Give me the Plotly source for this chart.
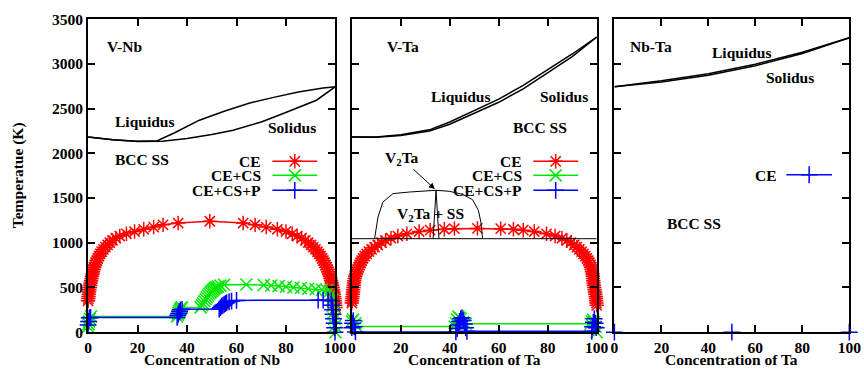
import plotly.graph_objects as go

# ---------------- DATA ----------------
# V-Nb phase boundaries
vnb_liq_x = [0, 10, 20, 28, 35, 45, 55, 65, 75, 85, 95, 100]
vnb_liq_T = [2182, 2150, 2135, 2140, 2230, 2370, 2470, 2560, 2625, 2685, 2730, 2745]
vnb_sol_x = [0, 10, 20, 30, 40, 50, 58.6, 70, 78.9, 85, 92.3, 100]
vnb_sol_T = [2182, 2150, 2132, 2135, 2165, 2210, 2258, 2350, 2444, 2510, 2593, 2745]

# temperature levels of the CE miscibility-gap points (K)
ce_levels = [0, 25, 50, 75, 100, 125, 150, 175, 200, 225, 250, 275, 300, 325, 350, 375, 400, 425, 450, 475,
             500, 525, 550, 575, 600, 625, 650, 675, 700, 725, 750, 775, 800, 825, 850, 875, 900, 925, 950, 975,
             1000, 1025, 1050, 1075, 1100]

# V-Nb CE (red)
vnb_ce_left_x = [-1.0, -0.95, -0.9, -0.85, -0.8, -0.7, -0.6, -0.55, -0.5, -0.4, -0.35, -0.3, -0.2, -0.1, 0.0, 0.1, 0.2, 0.3, 0.4, 0.55,
                 0.7, 0.85, 1.0, 1.2, 1.4, 1.6, 1.8, 2.0, 2.3, 2.5, 2.8, 3.1, 3.5, 3.9, 4.4, 4.9, 5.5, 6.2, 7.0, 7.9,
                 8.8, 9.9, 11.2, 12.8, 15.5]
vnb_ce_top_x = [18.8, 22.5, 26.5, 30.3, 36.4, 49.2, 62.7, 67.5, 72.0, 76.5, 80.0]
vnb_ce_top_T = [1125, 1150, 1175, 1200, 1220, 1240, 1220, 1200, 1175, 1150, 1125]
vnb_ce_right_x = [101.1, 101.0, 100.9, 100.8, 100.7, 100.6, 100.5, 100.4, 100.3, 100.2, 100.1, 100.0, 99.9, 99.8, 99.7, 99.6, 99.5, 99.35, 99.2, 99.0,
                  98.85, 98.65, 98.45, 98.2, 98.0, 97.7, 97.4, 97.1, 96.8, 96.4, 96.0, 95.6, 95.1, 94.6, 94.0, 93.4, 92.7, 91.9, 91.0, 90.1,
                  89.0, 87.8, 86.3, 84.5, 82.5]

# V-Nb CE+CS (green)
vnb_cecs_x = [-0.4, -0.2, 0.0, 0.2, 0.4, 0.7, 1.2, 36.0, 36.3, 36.6, 36.9, 37.2, 37.5, 38.0, 45.5, 46.0, 46.5, 47.0, 47.5, 48.0, 48.5, 49.0, 49.5,
              50.0, 50.5, 51.0, 51.5, 52.0, 52.5, 53.5, 55.0, 64.0, 71.0, 74.0, 77.0, 80.0, 83.0, 86.0, 89.0, 92.0, 94.5, 96.5, 97.8,
              98.3, 98.6, 98.9, 99.2, 99.5, 99.8, 100.0]
vnb_cecs_T = [0, 30, 60, 90, 120, 150, 175, 175, 195, 215, 235, 255, 270, 275, 277, 300, 320, 345, 370, 390, 410, 430, 445,
              460, 473, 485, 495, 503, 510, 520, 530, 532, 528, 522, 515, 508, 500, 493, 486, 480, 474, 468, 460,
              420, 360, 290, 220, 150, 70, 0]

# V-Nb CE+CS+P (blue)
vnb_cecsp_x = [-0.5, -0.3, 0.0, 0.2, 0.5, 1.0, 36.0, 36.3, 36.6, 37.0, 37.3, 38.0, 53.0, 53.5, 54.0, 54.5, 55.0, 55.5, 56.0, 57.0,
               58.0, 60.0, 93.0, 95.0, 97.0, 98.3, 98.6, 98.8, 99.0, 99.2, 99.4, 99.6, 99.8]
vnb_cecsp_T = [0, 40, 80, 120, 160, 165, 165, 190, 210, 230, 250, 255, 258, 275, 290, 300, 310, 320, 330, 340,
               348, 355, 358, 358, 358, 350, 300, 250, 200, 150, 100, 50, 0]

# V-Ta phase boundaries
vta_liq_x = [0, 10, 20, 31.7, 40, 52, 60, 70, 76.4, 80, 90, 100]
vta_liq_T = [2182, 2182, 2207, 2262, 2350, 2500, 2605, 2760, 2870, 2930, 3110, 3300]
vta_sol_x = [0, 10, 20, 31.7, 40, 52, 60, 70, 76.4, 80, 90, 100]
vta_sol_T = [2182, 2180, 2200, 2250, 2325, 2470, 2570, 2720, 2835, 2895, 3080, 3300]

# V2Ta region
v2ta_dome_x = [9.3, 10.7, 12.7, 16.8, 23.6, 34.4, 39.8, 45.2, 49.3, 51.7, 52.7, 53.4]
v2ta_dome_T = [1045, 1287, 1455, 1549, 1567, 1586, 1575, 1541, 1482, 1362, 1231, 1045]
v2ta_lens_x = [33.2, 34.4, 35.6]
v2ta_lens_T = [1045, 1586, 1045]
eutectoid_x = [0, 100]
eutectoid_T = [1045, 1045]

# V-Ta CE (red)
vta_ce_left_x = [-1.0, -0.95, -0.9, -0.85, -0.8, -0.7, -0.6, -0.55, -0.5, -0.4, -0.3, -0.2, -0.1, 0.0, 0.1, 0.2, 0.3, 0.4, 0.5, 0.6,
                 0.7, 0.8, 0.9, 1.0, 1.2, 1.4, 1.7, 2.0, 2.4, 2.8, 3.2, 3.6, 4.0, 4.6, 5.3, 6.1, 7.0, 8.1, 9.3, 10.6,
                 12.1, 13.8, 16.0, 18.8, 22.5]
vta_ce_top_x = [27.5, 32.0, 37.8, 41.9, 51.3, 60.8, 66.0, 70.0, 74.5]
vta_ce_top_T = [1125, 1140, 1150, 1157, 1160, 1157, 1150, 1140, 1125]
vta_ce_right_x = [101.0, 100.95, 100.9, 100.85, 100.8, 100.7, 100.6, 100.5, 100.4, 100.3, 100.2, 100.1, 100.0, 99.9, 99.8, 99.7, 99.6, 99.45, 99.3, 99.15,
                  99.0, 98.85, 98.7, 98.6, 98.5, 98.4, 98.3, 98.1, 97.9, 97.7, 97.4, 97.0, 96.6, 96.0, 95.3, 94.6, 93.8, 92.9, 91.9, 90.8,
                  89.5, 87.8, 85.8, 83.0, 79.5]

# V-Ta CE+CS (green)
vta_cecs_x = [-0.8, -0.6, -0.3, 0.0, 0.5, 1.5, 2.0, 42.0, 42.5, 43.0, 43.5, 44.0, 44.5, 45.5, 46.5, 97.5, 98.0, 98.5, 99.0, 99.5, 100.0]
vta_cecs_T = [0, 40, 80, 120, 140, 100, 64, 64, 100, 140, 175, 160, 150, 110, 94, 94, 120, 140, 110, 60, 0]

# V-Ta CE+CS+P (blue)
vta_cecsp_x = [-0.5, 0.0, 0.3, 0.6, 1.0, 1.5, 42.5, 43.0, 43.5, 44.0, 44.5, 45.0, 45.5, 46.0, 46.5, 47.0, 98.0, 98.3, 98.6, 99.0, 99.4, 99.8, 100.2]
vta_cecsp_T = [0, 50, 100, 130, 60, 3, 3, 40, 80, 120, 150, 160, 130, 90, 50, 10, 10, 60, 110, 150, 100, 50, 0]

# Nb-Ta phase boundaries
nbta_liq_x = [0, 20, 40, 60, 80, 100]
nbta_liq_T = [2745, 2810, 2890, 2995, 3130, 3292]
nbta_sol_x = [0, 20, 40, 60, 80, 100]
nbta_sol_T = [2745, 2798, 2873, 2978, 3115, 3292]

# Nb-Ta CE (blue)
nbta_ce_x = [0, 50, 100]
nbta_ce_T = [0, 0, 0]

x_ticks = [0, 20, 40, 60, 80, 100]
y_ticks = [0, 500, 1000, 1500, 2000, 2500, 3000, 3500]

# ---------------- STYLE / LAYOUT ----------------
W, H = 864, 375
# measured mapping from page pixels to the photographed picture: R = a + s * P
AX, SX, AY, SY = 4.1, 0.9818, 8.9, 0.9536
FONT = "Liberation Serif"
FS = 15.5
RED, GREEN, BLUE = "#ff0000", "#00e800", "#0000ff"
ref_x = [(88.2, 335.7), (352.0, 597.0), (614.7, 849.7)]   # panel edges in the reference picture
ref_top, ref_bot = 19.0, 331.7


def PX(R):
    return ((R - AX) / SX) / W


def PY(R):
    return 1 - ((R - AY) / SY) / H


ydom = [PY(ref_bot), PY(ref_top)]

fig = go.Figure()


def ax_names(k):
    s = "" if k == 1 else str(k)
    return "x" + s, "y" + s


def line(xs, ys, k, color="black", width=1.5):
    xa, ya = ax_names(k)
    fig.add_trace(go.Scatter(x=xs, y=ys, mode="lines", line=dict(color=color, width=width),
                             xaxis=xa, yaxis=ya, showlegend=False, hoverinfo="skip"))


def series(xs, ys, k, color, symbol, size=12, mode="lines+markers"):
    xa, ya = ax_names(k)
    fig.add_trace(go.Scatter(x=xs, y=ys, mode=mode,
                             line=dict(color=color, width=1.5),
                             marker=dict(symbol=symbol, size=size, color=color, line=dict(color=color, width=1.5)),
                             cliponaxis=False, xaxis=xa, yaxis=ya, showlegend=False, hoverinfo="skip"))


# Panel 1 : V-Nb
line(vnb_liq_x, vnb_liq_T, 1)
line(vnb_sol_x, vnb_sol_T, 1)
series(vnb_ce_left_x + vnb_ce_top_x + vnb_ce_right_x[::-1],
       ce_levels + vnb_ce_top_T + ce_levels[::-1], 1, RED, "asterisk-open")
series(vnb_cecs_x, vnb_cecs_T, 1, GREEN, "x-thin-open")
series(vnb_cecsp_x, vnb_cecsp_T, 1, BLUE, "cross-thin-open")

# Panel 2 : V-Ta
line(vta_liq_x, vta_liq_T, 2)
line(vta_sol_x, vta_sol_T, 2)
series(vta_ce_left_x + vta_ce_top_x + vta_ce_right_x[::-1],
       ce_levels + vta_ce_top_T + ce_levels[::-1], 2, RED, "asterisk-open")
series(vta_cecs_x, vta_cecs_T, 2, GREEN, "x-thin-open")
series(vta_cecsp_x, vta_cecsp_T, 2, BLUE, "cross-thin-open")
line(v2ta_dome_x, v2ta_dome_T, 2, width=1.0)
line(v2ta_lens_x, v2ta_lens_T, 2, width=1.0)
line(eutectoid_x, eutectoid_T, 2, width=1.0)

# Panel 3 : Nb-Ta
line(nbta_liq_x, nbta_liq_T, 3)
line(nbta_sol_x, nbta_sol_T, 3)
series(nbta_ce_x, nbta_ce_T, 3, BLUE, "cross-thin-open", size=12, mode="markers")

# Legends (key positions in data units of each panel)
legend_layout = [
    (1, [("CE", RED, "asterisk-open", 1910), ("CE+CS", GREEN, "x-thin-open", 1753),
         ("CE+CS+P", BLUE, "cross-thin-open", 1586)], 70.8, 74.5, 92.6),
    (2, [("CE", RED, "asterisk-open", 1910), ("CE+CS", GREEN, "x-thin-open", 1753),
         ("CE+CS+P", BLUE, "cross-thin-open", 1586)], 70.3, 74.1, 92.4),
    (3, [("CE", BLUE, "cross-thin-open", 1760)], 70.0, 73.2, 92.6),
]
tf = dict(family=FONT, size=FS, color="black", weight="bold")
annotations = []
for k, rows, tx, x0, x1 in legend_layout:
    xa, ya = ax_names(k)
    for label, col, sym, yv in rows:
        annotations.append(dict(x=tx, y=yv, xref=xa, yref=ya, text=label, showarrow=False,
                                xanchor="right", yanchor="middle", font=tf, height=14))
        fig.add_trace(go.Scatter(x=[x0, x1], y=[yv, yv], mode="lines", line=dict(color=col, width=1.5),
                                 xaxis=xa, yaxis=ya, showlegend=False, hoverinfo="skip"))
        fig.add_trace(go.Scatter(x=[(x0 + x1) / 2], y=[yv], mode="markers",
                                 marker=dict(symbol=sym, size=12, color=col, line=dict(color=col, width=1.5)),
                                 xaxis=xa, yaxis=ya, showlegend=False, hoverinfo="skip"))

# Text labels (data coords)
labels = [
    (1, "V-Nb", 6.8, 3189), (1, "Liquidus", 10.2, 2350), (1, "Solidus", 72.1, 2283), (1, "BCC SS", 10.2, 1929),
    (2, "V-Ta", 13.4, 3189), (2, "Liquidus", 31.7, 2630), (2, "Solidus", 76.0, 2630), (2, "BCC SS", 65.0, 2283),
    (2, "V<sub>2</sub>Ta + SS", 17.5, 1317),
    (3, "Nb-Ta", 5.8, 3189), (3, "Liquidus", 40.6, 3126), (3, "Solidus", 63.5, 2847), (3, "BCC SS", 21.4, 1213),
]
for k, t, xv, yv in labels:
    xa, ya = ax_names(k)
    annotations.append(dict(x=xv, y=yv, xref=xa, yref=ya, text=t, showarrow=False,
                            xanchor="left", yanchor="middle", font=tf))

# V2Ta label with arrow to the top of the dome
annotations.append(dict(x=33.9, y=1600, xref="x2", yref="y2", ax=20.3, ay=1944, axref="x2", ayref="y2",
                        text="V<sub>2</sub>Ta", showarrow=True, arrowhead=2, arrowsize=1.2, arrowwidth=1,
                        arrowcolor="black", font=tf))

# axis titles
for i, name in enumerate(["Concentration of Nb", "Concentration of Ta", "Concentration of Ta"]):
    cx = PX((ref_x[i][0] + ref_x[i][1]) / 2)
    annotations.append(dict(x=cx, y=0, xref="paper", yref="paper", text=name, showarrow=False,
                            xanchor="center", yanchor="bottom", font=tf, height=12))
annotations.append(dict(x=PX(18), y=PY(175), xref="paper", yref="paper", text="Temperatue (K)",
                        textangle=-90, showarrow=False, xanchor="center", yanchor="middle", font=tf))

axis_common = dict(showgrid=False, zeroline=False, showline=True, linecolor="black", linewidth=2,
                   mirror="allticks", ticks="inside", ticklen=7, tickwidth=2, tickcolor="black",
                   tickfont=tf)
layout = dict(width=W, height=H, autosize=False, margin=dict(l=0, r=0, t=0, b=0, pad=0),
              paper_bgcolor="white", plot_bgcolor="white", showlegend=False,
              annotations=annotations)
for i in range(3):
    xa, ya = ax_names(i + 1)
    layout["xaxis" + xa[1:]] = dict(axis_common, domain=[PX(ref_x[i][0]), min(PX(ref_x[i][1]), 1.0)],
                                    range=[0, 100], tickvals=x_ticks, anchor=ya)
    layout["yaxis" + ya[1:]] = dict(axis_common, domain=ydom, range=[0, 3500], tickvals=y_ticks,
                                    showticklabels=(i == 0), anchor=xa)
fig.update_layout(**layout)
fig.write_html("out.html", config={"displayModeBar": False},
               post_script="document.body.style.margin='0px';document.body.style.overflow='hidden';")
